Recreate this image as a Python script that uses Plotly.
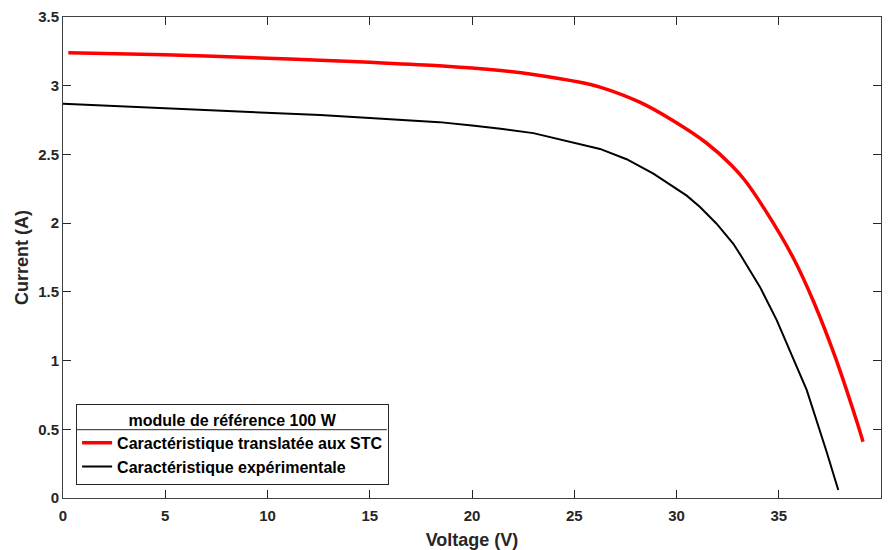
import plotly.graph_objects as go

# Red curve: characteristic translated to STC
v_stc = [0.26, 5, 10, 12.57, 15, 18.4, 21.4, 23.0, 25.28, 26.26, 28.2, 29.84, 31.45, 32.7, 33.35, 34.4, 35.7, 36.7, 37.75, 38.81, 39.12]
i_stc = [3.24, 3.225, 3.20, 3.186, 3.17, 3.145, 3.11, 3.082, 3.025, 2.99, 2.88, 2.745, 2.585, 2.42, 2.31, 2.08, 1.75, 1.43, 1.03, 0.56, 0.41]

# Black curve: experimental characteristic
v_exp = [0, 2.5, 5, 7.5, 10, 12.57, 15, 18.4, 20, 21.4, 23.0, 23.8, 25.28, 26.26, 27.56, 28.87, 30.5, 31.15, 31.96, 32.78, 33.19, 34.08, 34.9, 35.71, 36.37, 37.34, 37.91]
i_exp = [2.868, 2.852, 2.835, 2.815, 2.80, 2.786, 2.765, 2.735, 2.71, 2.687, 2.655, 2.628, 2.578, 2.54, 2.465, 2.36, 2.20, 2.117, 1.996, 1.85, 1.754, 1.536, 1.294, 1.015, 0.785, 0.337, 0.058]

x_ticks = [0, 5, 10, 15, 20, 25, 30, 35, 40]
y_ticks = [0, 0.5, 1, 1.5, 2, 2.5, 3, 3.5]

FONT = "Liberation Sans, Arial, sans-serif"
TXT = "#262626"

fig = go.Figure()
fig.add_trace(go.Scatter(x=v_stc, y=i_stc, mode="lines",
                         line=dict(color="#ff0000", width=3.5, shape="spline", smoothing=0.8),
                         name="Caractéristique translatée aux STC"))
fig.add_trace(go.Scatter(x=v_exp, y=i_exp, mode="lines", line=dict(color="#000000", width=2),
                         name="Caractéristique expérimentale"))

axis_common = dict(
    showgrid=False, zeroline=False, showline=True, linecolor="#404040", linewidth=1,
    mirror="ticks", ticks="inside", ticklen=8, tickcolor=TXT, tickwidth=1,
    tickfont=dict(family=FONT, size=15, color=TXT, weight="bold"),
    automargin=False,
)
fig.update_xaxes(range=[0, 40], tickvals=x_ticks, ticklabelstandoff=4, **axis_common,
                 title=dict(text="<b>Voltage (V)</b>", font=dict(family=FONT, size=18, color=TXT), standoff=10))
fig.update_yaxes(range=[0, 3.5], tickvals=y_ticks, **axis_common,
                 title=dict(text="<b>Current (A)</b>", font=dict(family=FONT, size=18, color=TXT), standoff=4))

fig.update_layout(
    width=888, height=550,
    margin=dict(l=63, r=7, t=17, b=52),
    plot_bgcolor="white", paper_bgcolor="white",
    font=dict(family=FONT, color="#000000"),
    legend=dict(
        x=0.016, y=0.027, xanchor="left", yanchor="bottom",
        bgcolor="rgba(255,255,255,0)", bordercolor=TXT, borderwidth=1,
        font=dict(family=FONT, size=16, color="#000000", weight="bold"),
        title=dict(text="module de référence 100 W", side="top center",
                   font=dict(family=FONT, size=16, color="#000000", weight="bold")),
        tracegroupgap=0, itemwidth=30,
    ),
)
fig.add_shape(type="line", xref="paper", yref="paper", x0=0.016, x1=0.396, y0=0.142, y1=0.142,
              line=dict(color=TXT, width=1))

fig.write_html("out.html")
